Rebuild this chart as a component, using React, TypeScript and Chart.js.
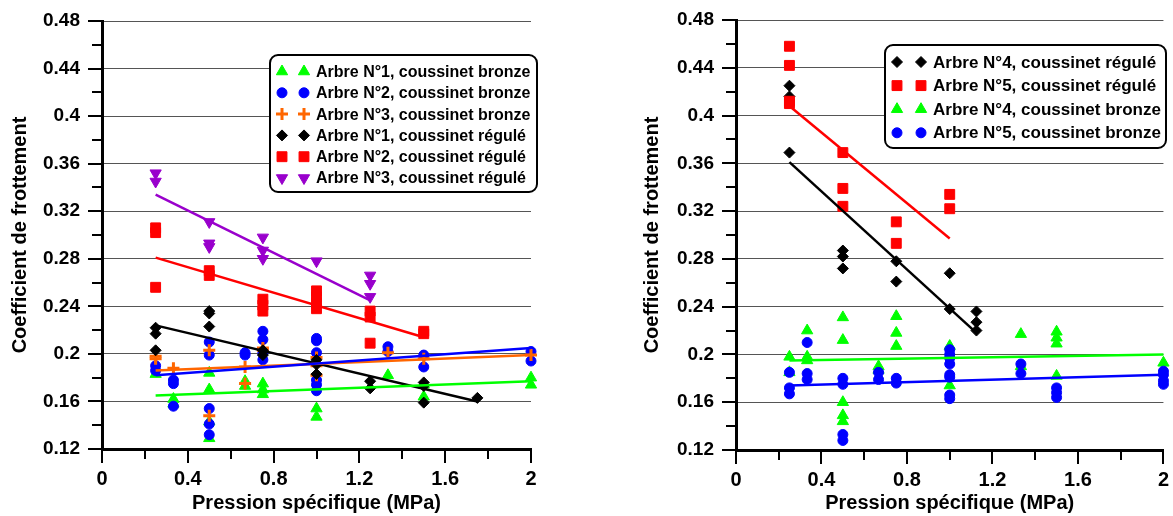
import React, { useEffect, useRef } from 'react';
import { Chart, registerables } from 'chart.js';
import { drawPoint } from 'chart.js/helpers';

Chart.register(...registerables);

type Pt = [number, number];

const FONT = "'Liberation Sans', Arial, sans-serif";

// Axis settings (shared)
const X_MIN = 0;
const X_MAX = 2;
const X_MAJOR = 0.4;
const X_MINOR = 0.2;
const Y_MIN = 0.12;
const Y_MAX = 0.48;
const Y_MAJOR = 0.04;
const Y_MINOR = 0.02;
const X_TITLE = 'Pression spécifique (MPa)';
const Y_TITLE = 'Coefficient de frottement';

const GREEN = '#00FF00';
const BLUE = '#0000FF';
const ORANGE = '#FF6600';
const BLACK = '#000000';
const RED = '#FF0000';
const PURPLE = '#9900CC';

// ---------- Left chart data ----------
const L_A1_BRONZE: Pt[] = [
  [0.25, 0.183], [0.333, 0.162], [0.333, 0.158], [0.5, 0.184], [0.5, 0.170], [0.5, 0.143], [0.5, 0.129],
  [0.667, 0.177], [0.667, 0.173], [0.75, 0.175], [0.75, 0.170], [0.75, 0.166], [1, 0.154], [1, 0.147],
  [1.333, 0.182], [1.5, 0.174], [1.5, 0.164], [2, 0.180], [2, 0.174],
];
const L_A2_BRONZE: Pt[] = [
  [0.25, 0.190], [0.25, 0.186], [0.333, 0.178], [0.333, 0.175], [0.333, 0.156], [0.5, 0.210], [0.5, 0.199],
  [0.5, 0.154], [0.5, 0.141], [0.5, 0.132], [0.667, 0.201], [0.667, 0.199], [0.75, 0.219], [0.75, 0.212],
  [0.75, 0.201], [0.75, 0.195], [1, 0.213], [1, 0.211], [1, 0.201], [1, 0.178], [1, 0.174], [1, 0.169],
  [1.333, 0.206], [1.333, 0.202], [1.5, 0.199], [1.5, 0.189], [2, 0.202], [2, 0.194],
];
const L_A3_BRONZE: Pt[] = [
  [0.25, 0.198], [0.25, 0.196], [0.333, 0.188], [0.5, 0.203], [0.5, 0.148], [0.667, 0.189], [0.667, 0.175],
  [0.75, 0.205], [0.75, 0.203], [1, 0.197], [1, 0.190], [1, 0.182], [1.333, 0.201], [1.5, 0.196], [2, 0.199],
];
const L_A1_REGULE: Pt[] = [
  [0.25, 0.222], [0.25, 0.217], [0.25, 0.203], [0.5, 0.236], [0.5, 0.234], [0.5, 0.223], [0.75, 0.203],
  [0.75, 0.199], [1, 0.195], [1, 0.191], [1, 0.183], [1.25, 0.177], [1.25, 0.171], [1.5, 0.176],
  [1.5, 0.173], [1.5, 0.159], [1.75, 0.163],
];
const L_A2_REGULE: Pt[] = [
  [0.25, 0.306], [0.25, 0.302], [0.25, 0.256], [0.5, 0.270], [0.5, 0.266], [0.75, 0.246], [0.75, 0.241],
  [0.75, 0.236], [1, 0.253], [1, 0.248], [1, 0.243], [1, 0.238], [1.25, 0.236], [1.25, 0.231], [1.25, 0.209],
  [1.5, 0.219], [1.5, 0.217],
];
const L_A3_REGULE: Pt[] = [
  [0.25, 0.352], [0.25, 0.345], [0.5, 0.311], [0.5, 0.293], [0.5, 0.290], [0.75, 0.298], [0.75, 0.287],
  [0.75, 0.280], [1, 0.278], [1.25, 0.266], [1.25, 0.259], [1.25, 0.248],
];
const L_TREND_A1_BRONZE: Pt[] = [[0.25, 0.165], [2, 0.177]];
const L_TREND_A2_BRONZE: Pt[] = [[0.25, 0.182], [2, 0.205]];
const L_TREND_A3_BRONZE: Pt[] = [[0.25, 0.186], [2, 0.199]];
const L_TREND_A1_REGULE: Pt[] = [[0.25, 0.224], [1.75, 0.160]];
const L_TREND_A2_REGULE: Pt[] = [[0.25, 0.281], [1.5, 0.214]];
const L_TREND_A3_REGULE: Pt[] = [[0.25, 0.334], [1.25, 0.245]];

// ---------- Right chart data ----------
const R_A4_REGULE: Pt[] = [
  [0.25, 0.425], [0.25, 0.416], [0.25, 0.369], [0.5, 0.287], [0.5, 0.282], [0.5, 0.272], [0.75, 0.278],
  [0.75, 0.261], [1, 0.268], [1, 0.238], [1.125, 0.236], [1.125, 0.227], [1.125, 0.220],
];
const R_A5_REGULE: Pt[] = [
  [0.25, 0.458], [0.25, 0.442], [0.25, 0.412], [0.25, 0.410], [0.5, 0.369], [0.5, 0.339], [0.5, 0.324],
  [0.75, 0.311], [0.75, 0.293], [1, 0.334], [1, 0.322],
];
const R_A4_BRONZE: Pt[] = [
  [0.25, 0.198], [0.25, 0.185], [0.333, 0.220], [0.333, 0.198], [0.333, 0.195], [0.5, 0.231], [0.5, 0.212],
  [0.5, 0.160], [0.5, 0.149], [0.5, 0.144], [0.667, 0.190], [0.667, 0.187], [0.75, 0.232], [0.75, 0.218],
  [0.75, 0.207], [1, 0.207], [1, 0.174], [1.333, 0.217], [1.333, 0.190], [1.5, 0.219], [1.5, 0.214],
  [1.5, 0.209], [1.5, 0.182], [2, 0.193],
];
const R_A5_BRONZE: Pt[] = [
  [0.25, 0.185], [0.25, 0.172], [0.25, 0.167], [0.333, 0.210], [0.333, 0.184], [0.333, 0.179], [0.5, 0.180],
  [0.5, 0.175], [0.5, 0.133], [0.5, 0.128], [0.667, 0.185], [0.667, 0.179], [0.75, 0.180], [0.75, 0.176],
  [1, 0.204], [1, 0.200], [1, 0.197], [1, 0.192], [1, 0.183], [1, 0.181], [1, 0.166], [1, 0.163],
  [1.333, 0.192], [1.333, 0.184], [1.5, 0.172], [1.5, 0.168], [1.5, 0.164], [2, 0.186], [2, 0.183],
  [2, 0.178], [2, 0.175],
];
const R_TREND_A4_REGULE: Pt[] = [[0.25, 0.361], [1.125, 0.218]];
const R_TREND_A5_REGULE: Pt[] = [[0.25, 0.408], [1, 0.297]];
const R_TREND_A4_BRONZE: Pt[] = [[0.25, 0.195], [2, 0.200]];
const R_TREND_A5_BRONZE: Pt[] = [[0.25, 0.174], [2, 0.183]];

type Series = {
  label: string;
  color: string;
  style: string;
  radius: number;
  rotation: number;
  borderWidth: number;
  points: Pt[];
  trend: Pt[];
};

const TRI = { style: 'triangle', radius: 6.5, rotation: 0, borderWidth: 1 };
const CIRC = { style: 'circle', radius: 5, rotation: 0, borderWidth: 1 };
const PLUS = { style: 'cross', radius: 6, rotation: 0, borderWidth: 3 };
const DIAM = { style: 'rectRot', radius: 5.5, rotation: 0, borderWidth: 1 };
const SQR = { style: 'rect', radius: 7, rotation: 0, borderWidth: 1 };
const DTRI = { style: 'triangle', radius: 6.5, rotation: 180, borderWidth: 1 };

// Legend order = series order (first drawn underneath)
const LEFT_SERIES: Series[] = [
  { label: 'Arbre N°1, coussinet bronze', color: GREEN, ...TRI, points: L_A1_BRONZE, trend: L_TREND_A1_BRONZE },
  { label: 'Arbre N°2, coussinet bronze', color: BLUE, ...CIRC, points: L_A2_BRONZE, trend: L_TREND_A2_BRONZE },
  { label: 'Arbre N°3, coussinet bronze', color: ORANGE, ...PLUS, points: L_A3_BRONZE, trend: L_TREND_A3_BRONZE },
  { label: 'Arbre N°1, coussinet régulé', color: BLACK, ...DIAM, points: L_A1_REGULE, trend: L_TREND_A1_REGULE },
  { label: 'Arbre N°2, coussinet régulé', color: RED, ...SQR, points: L_A2_REGULE, trend: L_TREND_A2_REGULE },
  { label: 'Arbre N°3, coussinet régulé', color: PURPLE, ...DTRI, points: L_A3_REGULE, trend: L_TREND_A3_REGULE },
];

const RIGHT_SERIES: Series[] = [
  { label: 'Arbre N°4, coussinet régulé', color: BLACK, ...DIAM, points: R_A4_REGULE, trend: R_TREND_A4_REGULE },
  { label: 'Arbre N°5, coussinet régulé', color: RED, ...SQR, points: R_A5_REGULE, trend: R_TREND_A5_REGULE },
  { label: 'Arbre N°4, coussinet bronze', color: GREEN, ...TRI, points: R_A4_BRONZE, trend: R_TREND_A4_BRONZE },
  { label: 'Arbre N°5, coussinet bronze', color: BLUE, ...CIRC, points: R_A5_BRONZE, trend: R_TREND_A5_BRONZE },
];

type Panel = {
  series: Series[];
  width: number;
  height: number;
  padLeft: number;
  padRight: number;
  padTop: number;
  yWidth: number;
  xHeight: number;
  legend: { x: number; y: number; w: number; h: number; row0: number; step: number; m1: number; m2: number; text: number; font: number };
};

const LEFT_PANEL: Panel = {
  series: LEFT_SERIES,
  width: 586,
  height: 516,
  padLeft: 0,
  padRight: 55,
  padTop: 21,
  yWidth: 102,
  xHeight: 67,
  legend: { x: 270, y: 55, w: 267, h: 137, row0: 71.5, step: 21.3, m1: 282, m2: 304, text: 316, font: 16 },
};

const RIGHT_PANEL: Panel = {
  series: RIGHT_SERIES,
  width: 587,
  height: 516,
  padLeft: 46,
  padRight: 6,
  padTop: 20,
  yWidth: 104,
  xHeight: 66,
  legend: { x: 299, y: 45, w: 281, h: 103, row0: 62, step: 23.6, m1: 311, m2: 335, text: 347, font: 17 },
};

function makeLegendPlugin(panel: Panel) {
  return {
    id: 'boxLegend',
    afterDraw(chart: any) {
      const ctx = chart.ctx as CanvasRenderingContext2D;
      const L = panel.legend;
      ctx.save();
      ctx.beginPath();
      (ctx as any).roundRect(L.x, L.y, L.w, L.h, 8);
      ctx.fillStyle = '#ffffff';
      ctx.fill();
      ctx.lineWidth = 2;
      ctx.strokeStyle = '#000000';
      ctx.stroke();
      ctx.font = `bold ${L.font}px ${FONT}`;
      ctx.textBaseline = 'middle';
      ctx.textAlign = 'left';
      panel.series.forEach((s, i) => {
        const y = L.row0 + i * L.step;
        const po: any = { pointStyle: s.style, radius: s.radius, rotation: s.rotation, borderWidth: s.borderWidth };
        ctx.fillStyle = s.color;
        ctx.strokeStyle = s.color;
        ctx.lineWidth = s.borderWidth;
        drawPoint(ctx, po, L.m1, y);
        drawPoint(ctx, po, L.m2, y);
        ctx.fillStyle = '#000000';
        ctx.fillText(s.label, L.text, y + 1);
      });
      ctx.restore();
    },
  };
}

const axisTicksPlugin = {
  id: 'axisTicks',
  afterDraw(chart: any) {
    const { ctx, chartArea, scales } = chart;
    const xs = scales.x;
    const ys = scales.y;
    ctx.save();
    ctx.strokeStyle = '#000000';
    ctx.lineWidth = 2;
    ctx.beginPath();
    const ny = Math.round((Y_MAX - Y_MIN) / Y_MINOR);
    const ratioY = Math.round(Y_MAJOR / Y_MINOR);
    for (let i = 0; i <= ny; i++) {
      const py = Math.round(ys.getPixelForValue(Y_MIN + i * Y_MINOR));
      const len = i % ratioY === 0 ? 14 : 10;
      ctx.moveTo(chartArea.left - len, py);
      ctx.lineTo(chartArea.left, py);
    }
    const nx = Math.round((X_MAX - X_MIN) / X_MINOR);
    const ratioX = Math.round(X_MAJOR / X_MINOR);
    for (let i = 0; i <= nx; i++) {
      const px = Math.round(xs.getPixelForValue(X_MIN + i * X_MINOR));
      const len = i % ratioX === 0 ? 14 : 10;
      ctx.moveTo(px, chartArea.bottom);
      ctx.lineTo(px, chartArea.bottom + len);
    }
    ctx.stroke();
    ctx.restore();
  },
};

function buildConfig(panel: Panel): any {
  const n = panel.series.length;
  const scatterSets = panel.series.map((s, i) => ({
    label: s.label,
    data: s.points.map(([x, y]) => ({ x, y })),
    pointStyle: s.style,
    pointRadius: s.radius,
    pointRotation: s.rotation,
    pointBorderWidth: s.borderWidth,
    backgroundColor: s.color,
    borderColor: s.color,
    showLine: false,
    clip: false,
    order: n - i + 1,
  }));
  const trendSets = panel.series.map((s) => ({
    label: s.label + ' (tendance)',
    data: s.trend.map(([x, y]) => ({ x, y })),
    showLine: true,
    pointRadius: 0,
    borderColor: s.color,
    backgroundColor: s.color,
    borderWidth: 2.5,
    fill: false,
    clip: false,
    order: 0,
  }));
  return {
    type: 'scatter',
    data: { datasets: [...trendSets, ...scatterSets] },
    options: {
      responsive: false,
      animation: false,
      devicePixelRatio: 1,
      layout: { padding: { left: panel.padLeft, right: panel.padRight, top: panel.padTop, bottom: 0 } },
      plugins: { legend: { display: false }, tooltip: { enabled: false } },
      scales: {
        x: {
          type: 'linear',
          min: X_MIN,
          max: X_MAX,
          ticks: {
            stepSize: X_MAJOR,
            autoSkip: false,
            maxRotation: 0,
            color: '#000',
            padding: 4,
            font: { family: FONT, size: 20, weight: 'bold' },
            callback: (v: any) => String(Math.round(Number(v) * 10) / 10),
          },
          grid: { display: false, drawTicks: true, tickLength: 14 },
          border: { display: true, color: '#000', width: 3 },
          title: {
            display: true,
            text: X_TITLE,
            color: '#000',
            font: { family: FONT, size: 20, weight: 'bold' },
            padding: { top: 0, bottom: 1 },
          },
          afterFit: (s: any) => {
            s.height = panel.xHeight;
          },
        },
        y: {
          type: 'linear',
          min: Y_MIN,
          max: Y_MAX,
          ticks: {
            stepSize: Y_MAJOR,
            color: '#000',
            padding: 8,
            font: { family: FONT, size: 19, weight: 'bold' },
            callback: (v: any) => String(Math.round(Number(v) * 100) / 100),
          },
          grid: { display: true, color: '#555555', lineWidth: 1, drawTicks: true, tickLength: 14, tickColor: 'rgba(0,0,0,0)' },
          border: { display: true, color: '#000', width: 3 },
          title: {
            display: true,
            text: Y_TITLE,
            color: '#000',
            font: { family: FONT, size: 20, weight: 'bold' },
            padding: { top: 8, bottom: 0 },
          },
          afterFit: (s: any) => {
            s.width = panel.yWidth;
          },
        },
      },
    },
    plugins: [axisTicksPlugin, makeLegendPlugin(panel)],
  };
}

function ChartPanel({ panel, left }: { panel: Panel; left: number }) {
  const ref = useRef<HTMLCanvasElement | null>(null);
  useEffect(() => {
    if (!ref.current) return;
    const chart = new Chart(ref.current, buildConfig(panel));
    return () => chart.destroy();
  }, [panel]);
  return (
    <canvas
      ref={ref}
      width={panel.width}
      height={panel.height}
      style={{ position: 'absolute', left, top: 0, width: panel.width, height: panel.height }}
    />
  );
}

export default function App() {
  return (
    <div style={{ position: 'fixed', left: 0, top: 0, width: 1173, height: 516, background: '#fff', overflow: 'hidden' }}>
      <ChartPanel panel={LEFT_PANEL} left={0} />
      <ChartPanel panel={RIGHT_PANEL} left={586} />
    </div>
  );
}
